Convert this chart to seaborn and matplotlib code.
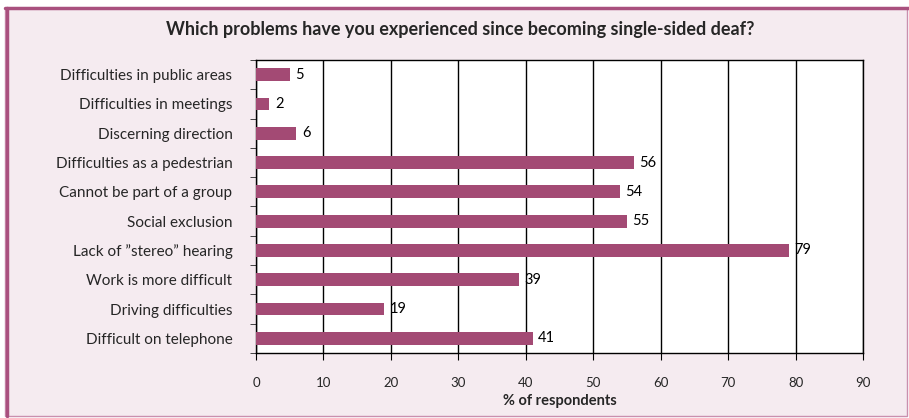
import matplotlib.pyplot as plt
import matplotlib.patches as mpatches
import pandas as pd
import seaborn as sns

categories = [
    "Difficulties in public areas",
    "Difficulties in meetings",
    "Discerning direction",
    "Difficulties as a pedestrian",
    "Cannot be part of a group",
    "Social exclusion",
    "Lack of \u201dstereo\u201d hearing",
    "Work is more difficult",
    "Driving difficulties",
    "Difficult on telephone",
]
values = [5, 2, 6, 56, 54, 55, 79, 39, 19, 41]
x_ticks = [0, 10, 20, 30, 40, 50, 60, 70, 80, 90]

bar_color = "#A34A74"
panel_color = "#F5EBF0"
border_color = "#A9507E"

df = pd.DataFrame({"problem": categories, "pct": values})

sns.set_style("white")
plt.rcParams["font.family"] = ["Lato", "DejaVu Sans"]

W, H = 909, 418
fig = plt.figure(figsize=(W / 100, H / 100), dpi=100)
fig.patch.set_facecolor("white")

# pink panel with border
fig.patches.append(mpatches.Rectangle((5 / W, 1 - 416 / H), 902 / W, 408 / H,
                                      transform=fig.transFigure, facecolor=panel_color,
                                      edgecolor="#C98FAE", linewidth=1, zorder=-2))
fig.lines.append(plt.Line2D([5 / W, 909 / W], [1 - 8 / H, 1 - 8 / H], transform=fig.transFigure,
                            color=border_color, linewidth=2.5, zorder=-1))
fig.lines.append(plt.Line2D([6.5 / W, 6.5 / W], [1 - 8 / H, 1 - 416 / H], transform=fig.transFigure,
                            color=border_color, linewidth=2.5, zorder=-1))

ax = fig.add_axes([256 / W, 1 - 353 / H, (863 - 256) / W, (353 - 60) / H])
ax.set_facecolor("white")

sns.barplot(data=df, x="pct", y="problem", color=bar_color, width=0.44,
            saturation=1, linewidth=0, ax=ax, zorder=3)

for i, v in enumerate(values):
    ax.text(v + 0.8, i, str(v), va="center", ha="left", fontsize=10.5, color="black")

ax.set_xlim(0, 90)
ax.set_ylim(len(categories) - 0.5, -0.5)
ax.set_xticks(x_ticks)
ax.set_xticklabels([str(t) for t in x_ticks], fontsize=9.5)
ax.xaxis.grid(True, color="black", linewidth=1)
ax.set_axisbelow(True)
for s in ax.spines.values():
    s.set_visible(True)
    s.set_color("black")
    s.set_linewidth(1)

ax.tick_params(axis="x", direction="out", length=5, pad=12, bottom=True, color="black")
ax.tick_params(axis="y", direction="out", length=4, left=True, color="black", labelsize=11, pad=17)
ax.set_yticks([i - 0.5 for i in range(len(categories) + 1)], minor=True)
ax.tick_params(axis="y", which="minor", direction="out", length=4, left=True)
ax.tick_params(axis="y", which="major", length=0)

ax.set_ylabel("")
ax.set_xlabel("% of respondents", fontsize=10.5, fontweight="bold", labelpad=4)

fig.text(460 / W, 1 - 30 / H,
         "Which problems have you experienced since becoming single-sided deaf?",
         ha="center", va="center", fontsize=13, fontweight="bold")

fig.savefig("out.png", dpi=100, facecolor=fig.get_facecolor())
